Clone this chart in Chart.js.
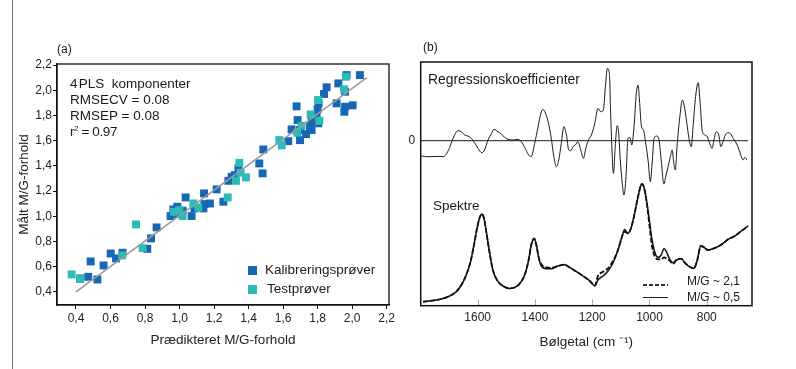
<!DOCTYPE html>
<html>
<head>
<meta charset="utf-8">
<script src="https://cdn.jsdelivr.net/npm/chart.js@4/dist/chart.umd.min.js"></script>
<style>
html,body{margin:0;padding:0;background:#fff;}
#wrap{position:relative;width:796px;height:369px;overflow:hidden;font-family:Arial,"Liberation Sans",sans-serif;color:#1a1a1a;}
#ca{position:absolute;left:0;top:0;}
#cb{position:absolute;left:400px;top:0;}
.t{position:absolute;white-space:nowrap;line-height:1;}
.s13{font-size:13.5px;}
.s12{font-size:12px;}
.sq{position:absolute;width:9px;height:9px;}
.ln{position:absolute;height:1.5px;width:25px;}
sup{font-size:8px;vertical-align:5px;line-height:0;}
</style>
</head>
<body>
<div id="wrap">
  <div style="position:absolute;left:12px;top:0;width:1px;height:369px;background:#707070;"></div>
  <canvas id="ca" width="400" height="369"></canvas>
  <canvas id="cb" width="396" height="369"></canvas>

  <div class="t s12" style="left:57px;top:42.5px;">(a)</div>
  <div class="t s13" style="left:70px;top:76.5px;">4&#8202;PLS&nbsp; komponenter</div>
  <div class="t s13" style="left:70px;top:92.5px;">RMSECV = 0.08</div>
  <div class="t s13" style="left:70px;top:108.5px;">RMSEP = 0.08</div>
  <div class="t s13" style="left:70px;top:124.5px;letter-spacing:-0.4px;">r<sup>2</sup> = 0.97</div>
  <div class="sq" style="left:248px;top:265.5px;background:#1767b5;"></div>
  <div class="t s13" style="left:265px;top:262.5px;">Kalibreringsprøver</div>
  <div class="sq" style="left:248px;top:285px;background:#2cbcb6;"></div>
  <div class="t s13" style="left:267px;top:281.5px;">Testprøver</div>

  <div class="t s12" style="left:423px;top:41px;">(b)</div>
  <div class="t" style="left:428px;top:73px;font-size:13.9px;">Regressionskoefficienter</div>
  <div class="t s13" style="left:433px;top:198.5px;">Spektre</div>
  <div class="ln" style="left:643px;top:284px;background:repeating-linear-gradient(to right,#333 0 4px,transparent 4px 6px);"></div>
  <div class="t s12" style="left:687px;top:274.5px;">M/G ~ 2,1</div>
  <div class="ln" style="left:643px;top:297px;height:1px;background:#222;"></div>
  <div class="t s12" style="left:687px;top:290.5px;">M/G ~ 0,5</div>
</div>
<script>
// ---------- Panel (a) data ----------
const aTicks = [0.4, 0.6, 0.8, 1.0, 1.2, 1.4, 1.6, 1.8, 2.0, 2.2];
const calibX = [0.423,0.471,0.485,0.524,0.560,0.601,0.632,0.670,0.813,0.835,0.867,0.948,0.964,0.987,1.035,0.993,1.018,1.070,1.086,1.142,1.144,1.176,1.138,1.215,1.254,1.283,1.302,1.321,1.341,1.462,1.481,1.485,1.630,1.649,1.678,1.684,1.698,1.698,1.733,1.756,1.765,1.765,1.794,1.804,1.800,1.806,1.837,1.852,1.920,1.910,1.959,1.955,2.003,1.959,1.968,2.045];
const calibY = [0.506,0.519,0.641,0.498,0.609,0.704,0.665,0.710,0.741,0.824,0.911,1.001,1.054,1.075,1.149,1.017,1.043,1.001,1.062,1.181,1.096,1.101,1.062,1.213,1.115,1.281,1.313,1.326,1.379,1.419,1.340,1.530,1.596,1.689,1.872,1.763,1.684,1.604,1.652,1.710,1.750,1.684,1.803,1.737,1.850,1.896,1.970,2.023,2.054,1.896,1.869,1.829,1.880,1.988,2.120,2.120];
const testX = [0.375,0.423,0.667,0.748,0.786,0.968,0.999,1.018,1.080,1.109,1.279,1.327,1.346,1.354,1.385,1.578,1.592,1.682,1.707,1.760,1.810,1.802,1.953,1.964];
const testY = [0.538,0.501,0.689,0.935,0.747,1.035,1.048,1.001,1.101,1.070,1.149,1.281,1.424,1.345,1.308,1.604,1.562,1.663,1.718,1.808,1.758,1.922,2.007,2.107];
const fitX = [0.4, 2.085];
const fitY = [0.4, 2.1];

// ---------- Panel (b) data ----------
const bTicks = [1600, 1400, 1200, 1000, 800];
const regWn = [1797,1774,1739,1721,1710,1698,1686,1669,1657,1646,1634,1622,1611,1599,1585,1576,1564,1552,1543,1529,1517,1506,1494,1477,1459,1448,1436,1422,1413,1401,1389,1380,1372,1364,1354,1343,1334,1325,1317,1308,1299,1290,1282,1275,1267,1259,1250,1240,1231,1221,1212,1203,1191,1180,1170,1161,1154,1147,1140,1136,1131,1126,1119,1113,1108,1102,1095,1089,1082,1075,1068,1062,1054,1046,1040,1035,1028,1021,1014,1005,997,990,984,975,968,959,950,942,935,927,921,915,910,903,894,885,877,868,860,854,847,839,830,823,816,807,798,790,781,775,766,758,751,743,735,726,716,708,700,691,681,673,667,660];
const regCoef = [-15.3,-16,-15.7,-16,-13.7,-6.7,2.3,10,9,5.7,4.7,2.3,-2,-7.7,-12,-9.3,0.7,7.3,11.3,9,6.7,3.3,1.3,0.7,1.3,-1,-6.7,-14.3,-16,-2.7,14,26.7,31.3,28,19,2.3,-16,-26,-19.3,-2.7,14,5.7,-9.3,-10,-6,-4.3,-1,-9.3,-17.7,-6,1.3,5.7,17.3,32.3,29,30.7,54,72.3,67.3,30.7,-9.3,-32.7,-2.7,15,9,-19.3,-42.7,-54.3,-36,2.3,3.3,-4.3,14,47.3,55.7,40.7,14,10.7,-1,-19.3,-41,-19.3,2.3,4.7,2.3,-19.3,-43.3,-34.3,-26,-16,-9.3,-22.7,-29.3,-2.7,24,40.7,32.3,14,-1,-6,17.3,44,58,37.3,10.7,5.7,4,-2.7,-7.7,0.7,9,5.7,-6,-1,5.7,8,6.7,2.3,-1,-6,-14.3,-19.3,-16.7,-19.3];
const zeroWn = [1799, 656];
const zeroVal = [0, 0];
const specWn = [1791,1762,1727,1698,1675,1657,1640,1625,1613,1601,1592,1585,1578,1569,1558,1547,1531,1512,1488,1465,1448,1434,1422,1413,1403,1395,1387,1378,1360,1343,1320,1296,1279,1255,1232,1209,1191,1180,1162,1145,1127,1110,1096,1087,1075,1063,1052,1040,1031,1026,1017,1007,999,991,982,970,959,949,941,929,918,906,889,877,860,845,833,821,809,796,778,761,743,726,702,679,656];
const specHigh = [4,5,6.7,9.7,14,20.7,30.7,44,60.7,79,89,91.7,87.3,72.3,52.3,35.7,25,19.7,17.3,19,24,32.3,45.7,60.7,67.3,60.7,48.3,41.7,38.3,38,39.7,41,38.3,34,29.7,25,20,29.7,34,37.3,45,55.7,69,74,72.3,79,92.3,109,119.7,121.7,115.7,97.3,77.3,59,49.7,46.3,46.3,48.3,47.3,45,41.7,45.7,47,43,39,37.3,45.7,59.7,58.3,55.7,57,59,62.3,66.3,69.7,74.7,79.7];
const specLow = [4,5,6.7,9.7,14,20.7,30.7,44,60.7,79,89,91.7,87.3,72.3,52.3,35.7,25,19.7,17.3,19,24,32.3,45.7,60.7,67.3,60.7,48.3,39.7,37,37,39.7,41,38.3,34,29.7,25,20,25.7,29.7,34.7,43,55.7,69,76.3,72.3,79,92.3,109,119.7,121.7,115.7,99,82.3,65.7,54,48.3,50.7,57.3,54,46.3,43,45.7,47,43,39,37.3,45.7,59.7,58.3,55.7,57,59,62.3,66.3,69.7,74.7,79.7];

// ---------- helpers ----------
const FONT = "Arial, 'Liberation Sans', sans-serif";
const pts = (xs, ys) => xs.map((x, i) => ({x: x, y: ys[i]}));
const frame = {
  id: 'frame',
  afterDatasetsDraw(chart, args, opts) {
    const a = chart.chartArea, ctx = chart.ctx;
    ctx.save();
    ctx.strokeStyle = '#111';
    ctx.lineWidth = opts.w || 1.3;
    ctx.strokeRect(a.left, a.top, a.right - a.left, a.bottom - a.top);
    if (opts.innerTicks) {
      const sx = chart.scales.x;
      ctx.lineWidth = 1;
      ctx.strokeStyle = '#555';
      ctx.setLineDash([1, 1]);
      sx.ticks.forEach(t => {
        const px = Math.round(sx.getPixelForValue(t.value)) + 0.5;
        ctx.beginPath();
        ctx.moveTo(px, a.bottom - 6);
        ctx.lineTo(px, a.bottom - 1);
        ctx.stroke();
      });
    }
    ctx.restore();
  }
};

// ---------- Chart (a) ----------
new Chart(document.getElementById('ca'), {
  type: 'scatter',
  data: {
    datasets: [
      {label: 'Fit', type: 'line', data: pts(fitX, fitY), borderColor: '#9a9a9a', borderWidth: 1.6, pointRadius: 0, fill: false, order: 0},
      {label: 'Testprøver', data: pts(testX, testY), pointStyle: 'rect', pointRadius: 5.6, backgroundColor: '#2cbcb6', borderWidth: 0, order: 1},
      {label: 'Kalibreringsprøver', data: pts(calibX, calibY), pointStyle: 'rect', pointRadius: 5.6, backgroundColor: '#1767b5', borderWidth: 0, order: 2}
    ]
  },
  options: {
    responsive: false, animation: false, events: [],
    layout: {padding: {top: 64, right: 11, left: 0, bottom: 0}},
    plugins: {legend: {display: false}, tooltip: {enabled: false}, frame: {w: 1.3}},
    scales: {
      x: {
        type: 'linear', min: 0.290, max: 2.2135,
        afterFit(s) { s.height = 64; },
        afterBuildTicks(s) { s.ticks = aTicks.map(v => ({value: v})); },
        ticks: {font: {size: 12, family: FONT}, color: '#222', padding: 2, maxRotation: 0, autoSkip: false,
                callback: v => Number(v).toFixed(1).replace('.', ',')},
        grid: {drawOnChartArea: false, drawTicks: true, tickLength: 4, color: '#111', lineWidth: 1},
        border: {display: true, color: '#111', width: 1.3},
        title: {display: true, text: 'Prædikteret M/G-forhold', font: {size: 13.5, family: FONT}, color: '#222', padding: {top: 0, bottom: 21}}
      },
      y: {
        type: 'linear', min: 0.2953, max: 2.208,
        afterFit(s) { s.width = 57; },
        afterBuildTicks(s) { s.ticks = aTicks.map(v => ({value: v})); },
        ticks: {font: {size: 12, family: FONT}, color: '#222', padding: 1, autoSkip: false,
                callback: v => Number(v).toFixed(1).replace('.', ',')},
        grid: {drawOnChartArea: false, drawTicks: true, tickLength: 4, color: '#111', lineWidth: 1},
        border: {display: true, color: '#111', width: 1.3},
        title: {display: true, text: 'Målt M/G-forhold', font: {size: 13.5, family: FONT}, color: '#222', padding: {top: 16, bottom: 0}}
      }
    }
  },
  plugins: [frame]
});

// ---------- Chart (b) ----------
new Chart(document.getElementById('cb'), {
  type: 'line',
  data: {
    datasets: [
      {label: 'Regressionskoefficienter', data: pts(regWn, regCoef), yAxisID: 'yc', borderColor: '#1a1a1a', borderWidth: 1, pointRadius: 0, cubicInterpolationMode: 'monotone', fill: false, order: 2},
      {label: '0', data: pts(zeroWn, zeroVal), yAxisID: 'yc', borderColor: '#1a1a1a', borderWidth: 1, pointRadius: 0, fill: false, order: 3},
      {label: 'M/G ~ 2,1', data: pts(specWn, specHigh), yAxisID: 'ys', borderColor: '#111', borderWidth: 1.8, borderDash: [5, 2], pointRadius: 0, cubicInterpolationMode: 'monotone', fill: false, order: 0},
      {label: 'M/G ~ 0,5', data: pts(specWn, specLow), yAxisID: 'ys', borderColor: '#111', borderWidth: 1.5, pointRadius: 0, cubicInterpolationMode: 'monotone', fill: false, order: 1}
    ]
  },
  options: {
    responsive: false, animation: false, events: [],
    layout: {padding: {top: 62, right: 44, left: 0, bottom: 0}},
    plugins: {legend: {display: false}, tooltip: {enabled: false}, frame: {w: 1.5, innerTicks: true}},
    scales: {
      x: {
        type: 'linear', reverse: true, min: 642, max: 1799,
        afterFit(s) { s.height = 63.3; },
        afterBuildTicks(s) { s.ticks = bTicks.map(v => ({value: v})); },
        ticks: {font: {size: 12, family: FONT}, color: '#222', padding: 5, maxRotation: 0, autoSkip: false,
                callback: v => String(v)},
        grid: {display: false, drawTicks: false},
        border: {display: false},
        title: {display: true, text: 'Bølgetal (cm ⁻¹)', font: {size: 13.5, family: FONT}, color: '#222', padding: {top: 0, bottom: 18.5}}
      },
      yc: {
        type: 'linear', position: 'left', min: -165, max: 78.7,
        afterFit(s) { s.width = 20.7; },
        afterBuildTicks(s) { s.ticks = [{value: 0}]; },
        ticks: {font: {size: 12, family: FONT}, color: '#222', padding: 5.5, callback: v => String(v)},
        grid: {display: false, drawTicks: false},
        border: {display: false}
      },
      ys: {type: 'linear', display: false, min: 0, max: 243.7}
    }
  },
  plugins: [frame]
});
</script>
</body>
</html>
